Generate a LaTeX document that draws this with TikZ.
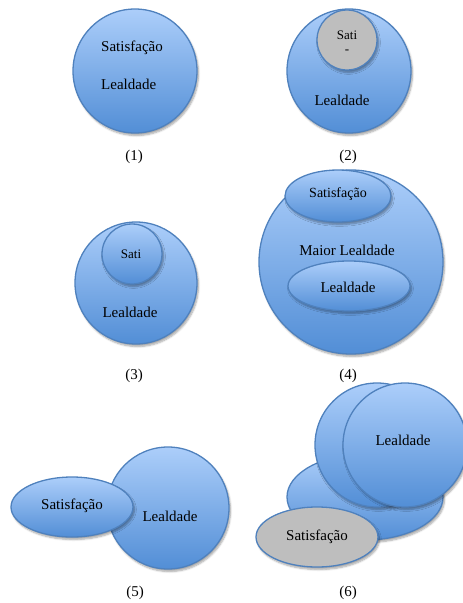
\documentclass[tikz,border=0pt]{standalone}
\usepackage{fontspec}
\setmainfont{Liberation Serif}
\usetikzlibrary{shapes.geometric,shadows.blur}

\definecolor{edgeblue}{RGB}{79,129,189}
\definecolor{topblue}{RGB}{172,206,250}
\definecolor{botblue}{RGB}{82,142,214}
\definecolor{discgray}{RGB}{190,190,190}

\tikzset{
  base/.style={draw=edgeblue, line width=1.3pt, inner sep=0pt,
    blur shadow={shadow xshift=1.5pt, shadow yshift=-2.5pt,
                 shadow blur steps=6, shadow opacity=35}},
  bluefill/.style={top color=topblue, bottom color=botblue},
  greyfill/.style={fill=discgray},
  disc/.style={base, circle, minimum size=#1},
  oval/.style 2 args={base, ellipse, minimum width=#1, minimum height=#2},
  lbl/.style={font=\fontsize{15}{18}\selectfont, inner sep=0pt},
  small/.style={font=\fontsize{13}{15}\selectfont, inner sep=0pt},
}

\begin{document}
\begin{tikzpicture}[x=1pt, y=-1pt]
\useasboundingbox (0,0) rectangle (463,603);

% (1) one circle holding both notions
\node[disc=124, bluefill] (c1) at (135,71) {};
\node[lbl, anchor=west] (c1sat) at (101,48) {Satisfação};
\node[lbl, anchor=west] (c1leal) at (101,84) {Lealdade};
\node[lbl] (n1) at (134,157) {(1)};

% (2) grey satisfaction disc inside loyalty
\node[disc=124, bluefill] (c2) at (349,71) {};
\node[disc=60, greyfill] (c2s) at (347,40) {};
\node[small] (c2sat) at (347,35) {Sati};
\node[small] (c2dash) at (347,52) {-};
\node[lbl] (c2leal) at (342,100) {Lealdade};
\node[lbl] (n2) at (348,157) {(2)};

% (3) blue satisfaction disc inside loyalty
\node[disc=122, bluefill] (c3) at (136,283) {};
\node[disc=60, bluefill] (c3s) at (132,254) {};
\node[small] (c3sat) at (131,254) {Sati};
\node[lbl] (c3leal) at (130,312) {Lealdade};
\node[lbl] (n3) at (134,376) {(3)};

% (4) greater loyalty containing both ovals
\node[disc=184, bluefill] (c4) at (351,262) {};
\node[oval={106}{52}, bluefill] (c4s) at (338,196) {};
\node[lbl, font=\fontsize{14}{17}\selectfont] (c4sat) at (338,194) {Satisfação};
\node[lbl] (c4maior) at (347,250) {Maior Lealdade};
\node[oval={122}{50}, bluefill] (c4l) at (349,286) {};
\node[lbl] (c4leal) at (348,287) {Lealdade};
\node[lbl] (n4) at (348,376) {(4)};

% (5) satisfaction oval overlapping loyalty
\node[disc=122, bluefill] (c5) at (168,508) {};
\node[lbl] (c5leal) at (170,516) {Lealdade};
\node[oval={122}{60}, bluefill] (c5s) at (72,507) {};
\node[lbl] (c5sat) at (72,506) {Satisfação};
\node[lbl] (n5) at (135,593) {(5)};

% (6) stacked loyalty shapes with grey satisfaction oval in front
\node[oval={156}{86}, bluefill] (c6b) at (365,497) {};
\node[disc=124, bluefill] (c6m) at (377,445) {};
\node[disc=124, bluefill] (c6f) at (405,445) {};
\node[lbl] (c6leal) at (403,440) {Lealdade};
\node[oval={122}{60}, greyfill] (c6s) at (317,537) {};
\node[lbl] (c6sat) at (317,537) {Satisfação};
\node[lbl] (n6) at (348,593) {(6)};
\end{tikzpicture}
\end{document}
